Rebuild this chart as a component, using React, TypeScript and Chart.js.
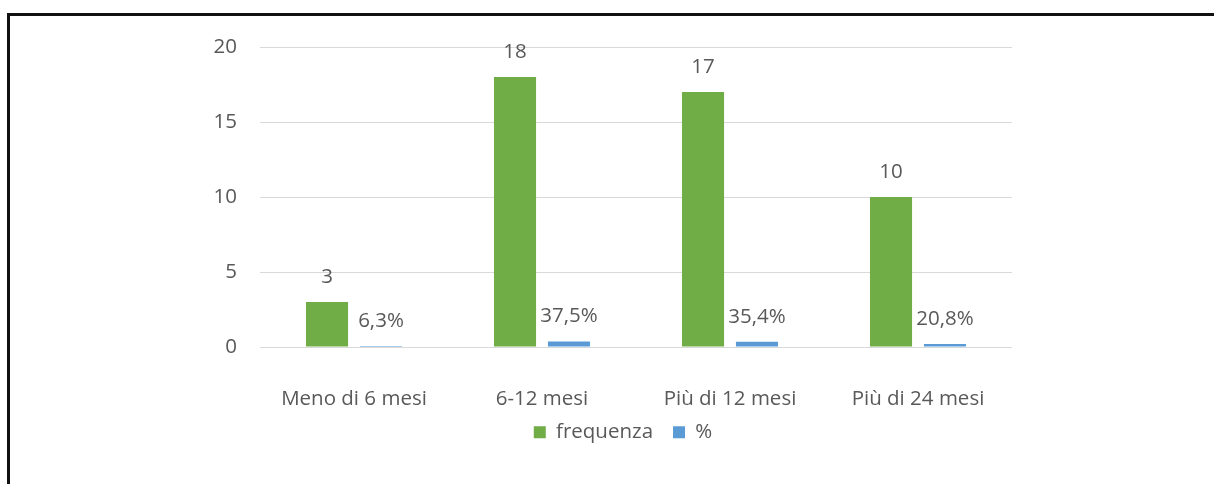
import React, { useEffect, useRef } from "react";
import { Chart, registerables } from "chart.js";

Chart.register(...registerables);

const categories = ["Meno di 6 mesi", "6-12 mesi", "Più di 12 mesi", "Più di 24 mesi"];
const frequenza = [3, 18, 17, 10];
const percentuali = [6.3, 37.5, 35.4, 20.8];
const yTicks = [0, 5, 10, 15, 20];

const FONT = "'Open Sans', sans-serif";
const TEXT = "#595959";
const SIZE = 20.5;

const fmtPct = (v: number) => v.toFixed(1).replace(".", ",") + "%";

// Writes each bar's value just above its top edge
const valueLabels = {
  id: "valueLabels",
  afterDatasetsDraw(chart: any) {
    const { ctx } = chart;
    ctx.save();
    ctx.font = `${SIZE}px ${FONT}`;
    ctx.fillStyle = TEXT;
    ctx.textAlign = "center";
    ctx.textBaseline = "middle";
    chart.data.datasets.forEach((ds: any, di: number) => {
      const meta = chart.getDatasetMeta(di);
      meta.data.forEach((bar: any, i: number) => {
        const text = di === 0 ? String(frequenza[i]) : fmtPct(percentuali[i]);
        ctx.fillText(text, bar.x, bar.y - 25);
      });
    });
    ctx.restore();
  },
};

// Nudges the legend box a little to the right and up
const legendOffset = {
  id: "legendOffset",
  afterLayout(chart: any) {
    const lg = chart.legend;
    if (!lg) return;
    lg.left += 27;
    lg.right += 27;
    lg.top -= 11;
    lg.bottom -= 11;
  },
};

export default function App() {
  const ref = useRef<HTMLCanvasElement | null>(null);

  useEffect(() => {
    if (!ref.current) return;
    const chart = new Chart(ref.current, {
      type: "bar",
      data: {
        labels: categories,
        datasets: [
          {
            label: "frequenza",
            data: frequenza,
            backgroundColor: "#70AD47",
            categoryPercentage: 0.574,
            barPercentage: 0.78,
          },
          {
            label: "%",
            data: percentuali.map((p) => p / 100),
            backgroundColor: "#5B9BD5",
            categoryPercentage: 0.574,
            barPercentage: 0.78,
          },
        ],
      },
      options: {
        animation: false,
        responsive: false,
        maintainAspectRatio: false,
        layout: { padding: { left: 180, top: 47, right: 202, bottom: 20.5 } },
        plugins: {
          tooltip: { enabled: false },
          legend: {
            position: "bottom",
            labels: {
              boxWidth: 12,
              boxHeight: 12,
              padding: 20,
              color: TEXT,
              font: { family: FONT, size: SIZE },
            },
          },
        },
        scales: {
          x: {
            afterFit: (s: any) => {
              s.height = 66;
            },
            grid: { display: false, drawTicks: false },
            border: { display: false },
            ticks: { color: TEXT, font: { family: FONT, size: SIZE }, padding: 40 },
          },
          y: {
            min: 0,
            max: 20,
            afterFit: (s: any) => {
              s.width = 80;
            },
            afterBuildTicks: (s: any) => {
              s.ticks = yTicks.map((v) => ({ value: v }));
            },
            grid: { color: "#D9D9D9", drawTicks: false, lineWidth: 1 },
            border: { display: false },
            ticks: { color: TEXT, font: { family: FONT, size: SIZE }, padding: 23 },
          },
        },
      },
      plugins: [valueLabels, legendOffset],
    });
    return () => chart.destroy();
  }, []);

  return (
    <div style={{ position: "fixed", left: 0, top: 0, width: 1214, height: 484, background: "#fff", overflow: "hidden" }}>
      <div
        style={{
          position: "absolute",
          left: 7,
          top: 13,
          width: 1240,
          height: 520,
          borderLeft: "3px solid #111",
          borderTop: "3px solid #111",
        }}
      />
      <canvas ref={ref} width={1214} height={484} style={{ position: "absolute", left: 0, top: 0 }} />
    </div>
  );
}
